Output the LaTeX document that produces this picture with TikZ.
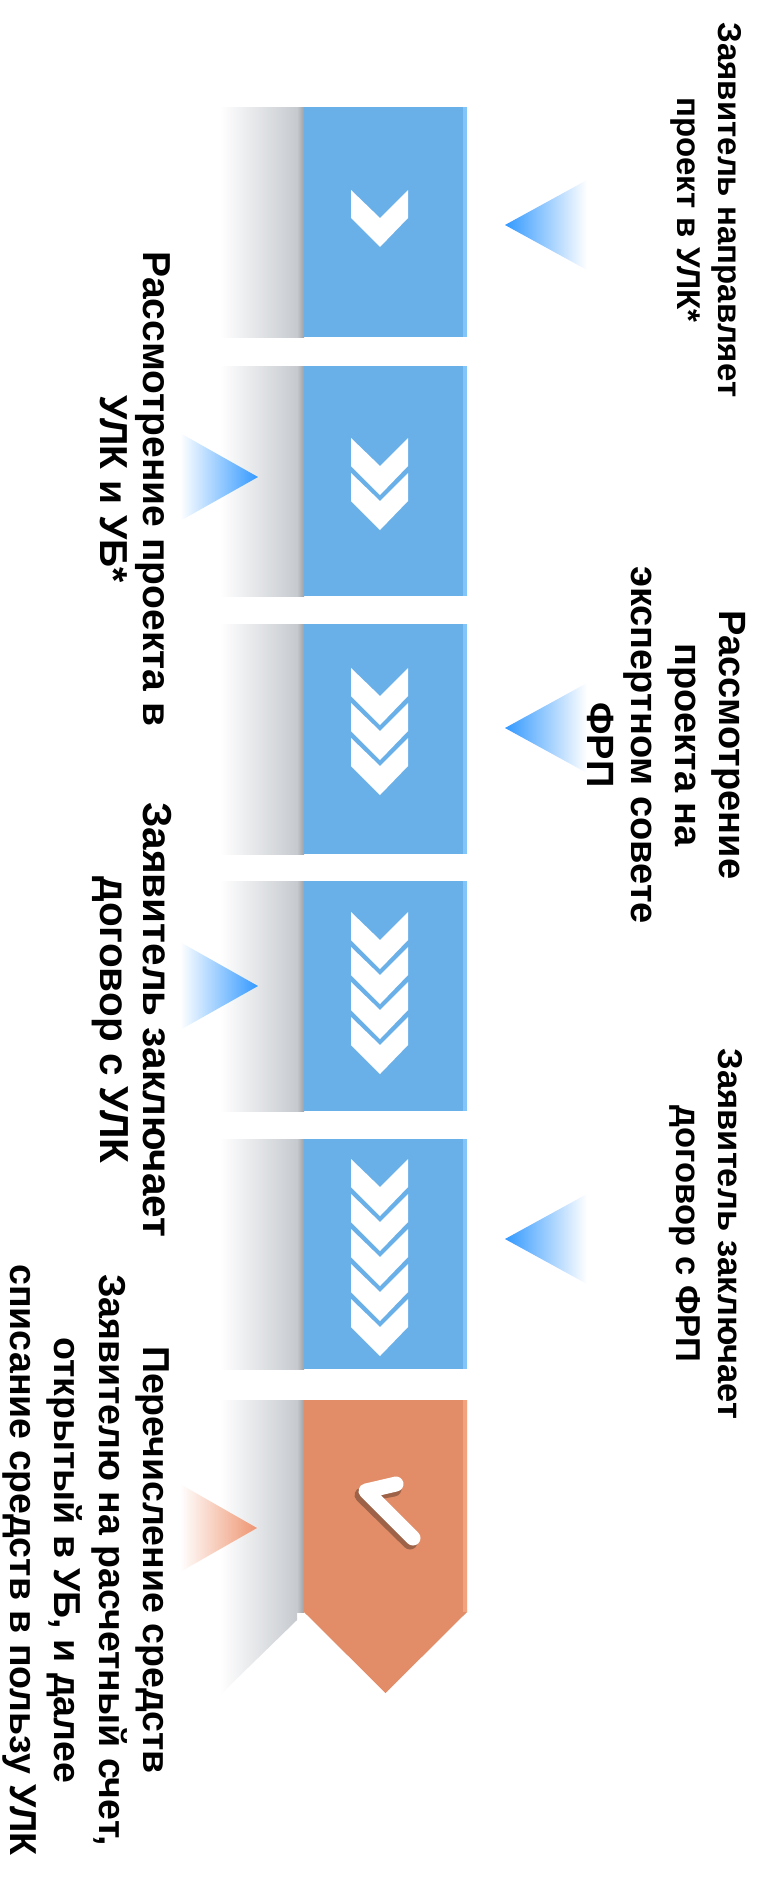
\documentclass[tikz,border=0pt]{standalone}
\usepackage{fontspec}
\setmainfont{Liberation Sans}
\usetikzlibrary{positioning}
\definecolor{boxblue}{HTML}{6AB0E8}
\definecolor{edgeblue}{HTML}{82C5F8}
\definecolor{tipblue}{HTML}{3399FF}
\definecolor{boxorange}{HTML}{E28D68}
\definecolor{edgeorange}{HTML}{F2A27C}
\definecolor{tiporange}{HTML}{EE9470}
\definecolor{shadegray}{HTML}{C6CACF}
\definecolor{shadedark}{HTML}{9EA2A7}
\newcommand{\chev}[1]{(351,#1) -- (380,#1+28) -- (408,#1) -- (408,#1+28) -- (380,#1+57) -- (351,#1+28) -- cycle}
\newcommand{\shadowstrip}[2]{\shade[left color=white, right color=shadegray] (220,#1) rectangle (297,#2);
  \shade[left color=shadegray, right color=shadedark] (297,#1) rectangle (304,#2);}

\begin{document}
\begin{tikzpicture}[x=1pt, y=-1pt,
  stepbox/.style={fill=boxblue, minimum width=163pt, minimum height=230pt, inner sep=0pt, outer sep=0pt},
  steptext/.style 2 args={font=\bfseries\fontsize{#1}{#2}\selectfont, align=center, rotate=-90, inner sep=0pt}]
\useasboundingbox[fill=white] (0,0) rectangle (758,1879);

\foreach \top/\ctop/\n [count=\i] in {107/190/1, 366/438/2, 624/668/3, 881/912/4, 1139/1159/5} {
  \shadowstrip{\top}{\top+230}
  \node[stepbox] (s\i) at (385.5,\top+115) {};
  \fill[edgeblue] (463,\top) rectangle (467,\top+230);
  \foreach \k in {1,...,\n} \fill[white] \chev{\ctop+35*\k-35};
}

\shade[left color=white, right color=shadegray] (220,1400) -- (297,1400) -- (297,1620) -- (220,1695) -- cycle;
\shade[left color=shadegray, right color=shadedark] (297,1400) rectangle (304,1612);
\fill[boxorange] (304,1400) -- (467,1400) -- (467,1612) -- (385.5,1693) -- (304,1612) -- cycle;
\fill[edgeorange] (463,1400) rectangle (467,1612);
\draw[black, opacity=0.3, line width=15pt, line cap=round, line join=round] (394,1489) -- (362,1495) -- (410,1542);
\draw[white, line width=15pt, line cap=round, line join=round] (396,1484) -- (366,1491) -- (413,1538);

\foreach \y in {225,728,1239}
  \shade[left color=tipblue, right color=white] (505,\y) -- (587,\y-45) -- (587,\y+45) -- cycle;
\foreach \y in {477,986}
  \shade[left color=white, right color=tipblue] (258,\y) -- (180,\y-44) -- (180,\y+44) -- cycle;
\shade[left color=white, right color=tiporange] (257,1528) -- (180,1484) -- (180,1572) -- cycle;

\node[steptext={33}{41}] (t1) at (706,210) {Заявитель направляет\\проект в УЛК*};
\node[steptext={39}{43}] (t2) at (135.5,489) {Рассмотрение проекта в\\УЛК и УБ*};
\node[steptext={38}{44}] (t3) at (666,745) {Рассмотрение\\проекта на\\экспертном совете\\ФРП};
\node[steptext={40.5}{43}] (t4) at (132,1020) {Заявитель заключает\\договор с УЛК};
\node[steptext={34.5}{42}] (t5) at (706,1234) {Заявитель заключает\\договор с ФРП};
\node[steptext={37.5}{44.5}] (t6) at (86,1560) {Перечисление средств\\Заявителю на расчетный счет,\\открытый в УБ, и далее\\списание средств в пользу УЛК};
\end{tikzpicture}
\end{document}
